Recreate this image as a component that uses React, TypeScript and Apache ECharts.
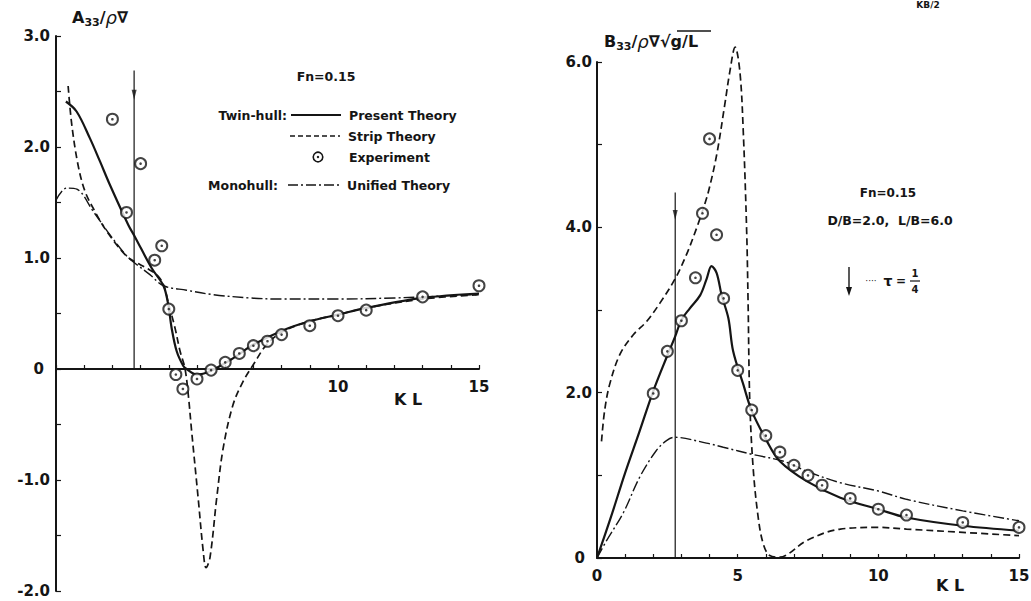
import React, { useEffect, useRef } from "react";
import * as echarts from "echarts";

// ---- Left panel: A33/ρ∇ (added mass) ----
const leftPresent: [number, number][] = [
  [0.35, 2.41], [0.73, 2.32], [1.2, 2.08], [1.56, 1.87], [1.91, 1.66], [2.56, 1.3], [2.8, 1.19],
  [3.39, 0.91], [3.81, 0.75], [3.98, 0.58], [4.1, 0.37], [4.28, 0.16], [4.51, 0.03], [4.63, 0.0],
  [4.99, -0.05], [5.46, -0.02], [6.3, 0.1], [7.0, 0.22], [8.06, 0.35], [9.0, 0.43], [10, 0.49],
  [11, 0.55], [13, 0.64], [15, 0.68],
];
const leftStrip: [number, number][] = [
  [0.43, 2.55], [0.56, 2.2], [0.78, 1.84], [1.03, 1.6], [1.38, 1.42], [1.8, 1.24], [2.45, 1.03],
  [2.77, 0.97], [3.2, 0.91], [3.57, 0.85], [3.81, 0.76], [3.98, 0.6], [4.22, 0.37], [4.4, 0.16],
  [4.57, 0.01], [4.69, -0.23], [4.81, -0.56], [5.04, -1.16], [5.22, -1.64], [5.32, -1.79],
  [5.46, -1.7], [5.7, -1.16], [5.93, -0.71], [6.28, -0.32], [6.64, -0.11], [7.0, 0.04],
  [7.47, 0.22], [8.06, 0.34], [9, 0.43], [10, 0.49], [11, 0.55], [13, 0.63], [15, 0.67],
];
const leftUnified: [number, number][] = [
  [0, 1.52], [0.38, 1.63], [0.74, 1.62], [1.32, 1.42], [1.91, 1.21], [2.5, 1.02], [2.77, 0.96],
  [3.33, 0.85], [3.81, 0.75], [4.63, 0.71], [5.57, 0.67], [6.88, 0.64], [8, 0.63], [10, 0.63],
  [12, 0.64], [13, 0.65], [15, 0.67],
];
const leftExperiment: [number, number][] = [
  [2, 2.25], [2.5, 1.41], [3, 1.85], [3.5, 0.98], [3.75, 1.11], [4, 0.54], [4.25, -0.05],
  [4.5, -0.18], [5, -0.09], [5.5, -0.01], [6, 0.06], [6.5, 0.14], [7, 0.21], [7.5, 0.25],
  [8, 0.31], [9, 0.39], [10, 0.48], [11, 0.53], [13, 0.65], [15, 0.75],
];
const leftTauLine: [number, number][] = [[2.77, 0], [2.77, 2.69]];
const leftTauArrow: [number, number][] = [[2.77, 2.47]];

// ---- Right panel: B33/ρ∇√(g/L) (damping) ----
const rightPresent: [number, number][] = [
  [0, 0], [0.5, 0.5], [1, 1.03], [1.5, 1.52], [2, 2.02], [2.5, 2.45], [2.78, 2.68], [3.0, 2.88],
  [3.3, 3.02], [3.67, 3.18], [3.9, 3.38], [4.07, 3.53], [4.25, 3.45], [4.43, 3.18], [4.67, 2.9],
  [4.84, 2.5], [5.2, 2.1], [5.5, 1.78], [6.03, 1.42], [6.5, 1.17], [7.45, 0.93], [8.65, 0.73],
  [10, 0.59], [11, 0.49], [13, 0.39], [15, 0.33],
];
const rightStrip: [number, number][] = [
  [0.16, 1.41], [0.27, 1.78], [0.45, 2.1], [0.81, 2.46], [1.29, 2.7], [1.76, 2.86], [2.23, 3.08],
  [2.78, 3.38], [3.18, 3.67], [3.54, 3.99], [3.78, 4.23], [3.96, 4.43], [4.25, 4.87], [4.54, 5.48],
  [4.72, 5.88], [4.91, 6.18], [5.08, 5.88], [5.2, 5.15], [5.32, 3.95], [5.37, 3.1], [5.43, 1.9],
  [5.55, 1.09], [5.73, 0.49], [5.91, 0.17], [6.14, 0.03], [6.5, 0.01], [6.8, 0.05], [7.45, 0.21],
  [8.65, 0.35], [10, 0.37], [11, 0.35], [13, 0.31], [15, 0.27],
];
const rightUnified: [number, number][] = [
  [0, 0], [0.34, 0.21], [0.94, 0.55], [1.52, 0.98], [2.11, 1.3], [2.47, 1.42], [2.75, 1.46],
  [3.89, 1.39], [4.49, 1.34], [5.56, 1.25], [6.63, 1.17], [7.45, 1.05], [8.65, 0.91], [10, 0.81],
  [11, 0.71], [13, 0.57], [15, 0.45],
];
const rightExperiment: [number, number][] = [
  [2, 1.99], [2.5, 2.5], [3, 2.87], [3.5, 3.39], [3.75, 4.17], [4, 5.07], [4.25, 3.91],
  [4.5, 3.14], [5, 2.27], [5.5, 1.79], [6, 1.48], [6.5, 1.28], [7, 1.12], [7.5, 1.0],
  [8, 0.88], [9, 0.72], [10, 0.59], [11, 0.52], [13, 0.43], [15, 0.37],
];
const rightTauLine: [number, number][] = [[2.78, 0], [2.78, 4.42]];
const rightTauArrow: [number, number][] = [[2.78, 4.15]];

const leftXLabels = [10, 15];
const rightXLabels = [0, 5, 10, 15];

const INK = "#151515";
const FONT = "DejaVu Sans";

const tickFont = { fontFamily: FONT, fontWeight: "bold" as const, fontSize: 15, color: INK };

function yFmt(v: number, labelEvery: number) {
  if (Math.abs(v % labelEvery) > 1e-9) return "";
  if (v === 0) return "{z|0}";
  return v.toFixed(1);
}

const LEFT_GRID = { left: 56, top: 36, width: 423, height: 555 };
const LEFT_YMIN = -2;
const LEFT_YMAX = 3;

export default function App() {
  const ref = useRef<HTMLDivElement>(null);
  useEffect(() => {
    if (!ref.current) return;
    const chart = echarts.init(ref.current, undefined, { renderer: "svg" });
    const solid = { color: INK, width: 2.2, type: "solid" as const };
    const dashed = { color: INK, width: 1.7, type: [7, 4] as any };
    const dashDot = { color: INK, width: 1.4, type: [11, 3, 2, 3] as any };
    const lineSeries = (data: any, idx: number, ls: any) => ({
      type: "line", xAxisIndex: idx, yAxisIndex: idx, data, smooth: 0.35, symbol: "none",
      lineStyle: ls, clip: false, z: 3,
    });
    const expSeries = (data: any, idx: number) => [
      {
        type: "scatter", xAxisIndex: idx, yAxisIndex: idx, data, symbol: "emptyCircle", symbolSize: 11,
        itemStyle: { color: INK, borderColor: INK, borderWidth: 1.6 }, clip: false, z: 5,
      },
      {
        type: "scatter", xAxisIndex: idx, yAxisIndex: idx, data, symbol: "circle", symbolSize: 2.6,
        itemStyle: { color: INK }, clip: false, z: 6,
      },
    ];
    const tauSeries = (line: any, arrow: any, idx: number) => [
      {
        type: "line", xAxisIndex: idx, yAxisIndex: idx, data: line, symbol: "none",
        lineStyle: { color: INK, width: 1.2 }, clip: false, z: 2,
      },
      {
        type: "scatter", xAxisIndex: idx, yAxisIndex: idx, data: arrow, symbol: "triangle",
        symbolRotate: 180, symbolSize: [5, 10], itemStyle: { color: INK }, clip: false, z: 2,
      },
    ];
    // left x-axis sits on y = 0: shift it up from the grid bottom
    const leftZeroOffset = -(LEFT_GRID.height * (0 - LEFT_YMIN)) / (LEFT_YMAX - LEFT_YMIN);
    const xAxisBase = (idx: number, labels: number[], margin: number, offset: number) => ({
      type: "value", gridIndex: idx, min: 0, max: 15, interval: 1, offset,
      axisLine: { onZero: false, lineStyle: { color: INK, width: 2 } },
      axisTick: { inside: true, length: 4, lineStyle: { color: INK, width: 1.2 } },
      axisLabel: {
        ...tickFont, margin,
        formatter: (v: number) => (labels.includes(v) ? String(v) : ""),
      },
      splitLine: { show: false },
    });
    const richTitle = {
      b: { fontFamily: FONT, fontWeight: "bold", fontSize: 16, fill: INK, lineHeight: 22 },
      r: { fontFamily: FONT, fontStyle: "italic", fontSize: 18, fill: INK, lineHeight: 22 },
      s: { fontFamily: FONT, fontWeight: "bold", fontSize: 11, fill: INK, lineHeight: 11, verticalAlign: "bottom" },
    };
    const legendText = (x: number, y: number, text: string, align = "left", size = 12.5) => ({
      type: "text", x, y,
      style: { text, fontFamily: FONT, fontWeight: "bold", fontSize: size, fill: INK, align, verticalAlign: "middle" },
    });
    const graphics: any[] = [
      { type: "text", x: 72, y: 17, style: { text: "{b|A}{s|33}{b|/}{r|ρ}{b|∇}", verticalAlign: "middle", rich: richTitle } },
      { type: "text", x: 604, y: 41, style: { text: "{b|B}{s|33}{b|/}{r|ρ}{b|∇√g/L}", verticalAlign: "middle", rich: richTitle } },
      { type: "line", shape: { x1: 677, y1: 31, x2: 711, y2: 31 }, style: { stroke: INK, lineWidth: 1.6 } },
      {
        type: "text", x: 928, y: 0,
        style: { text: "KB/2", fontFamily: FONT, fontWeight: "bold", fontSize: 9, fill: INK, align: "center", verticalAlign: "top" },
      },
      legendText(408, 399, "K L", "center", 16),
      legendText(950, 585, "K L", "center", 16),
      legendText(326, 76, "Fn=0.15", "center", 12.5),
      legendText(287, 115, "Twin-hull:", "right"),
      { type: "line", shape: { x1: 291, y1: 115, x2: 341, y2: 115 }, style: { stroke: INK, lineWidth: 2 } },
      legendText(349, 115, "Present Theory"),
      { type: "line", shape: { x1: 290, y1: 136, x2: 340, y2: 136 }, style: { stroke: INK, lineWidth: 1.6, lineDash: [5, 3] } },
      legendText(348, 136, "Strip Theory"),
      { type: "circle", shape: { cx: 318, cy: 157, r: 4.8 }, style: { stroke: INK, fill: "#fff", lineWidth: 1.6 } },
      { type: "circle", shape: { cx: 318, cy: 157, r: 1.2 }, style: { fill: INK } },
      legendText(349, 157, "Experiment"),
      legendText(278, 185, "Monohull:", "right"),
      { type: "line", shape: { x1: 288, y1: 185, x2: 340, y2: 185 }, style: { stroke: INK, lineWidth: 1.6, lineDash: [10, 3, 2, 3] } },
      legendText(347, 185, "Unified Theory"),
      legendText(888, 193, "Fn=0.15", "center", 12),
      legendText(890, 220, "D/B=2.0,  L/B=6.0", "center", 12.5),
      { type: "line", shape: { x1: 849, y1: 267, x2: 849, y2: 290 }, style: { stroke: INK, lineWidth: 1.4 } },
      { type: "polygon", shape: { points: [[846, 287], [852, 287], [849, 296]] }, style: { fill: INK } },
      { type: "text", x: 871, y: 281, style: { text: "····", fontFamily: FONT, fontSize: 9, fill: INK, align: "center", verticalAlign: "middle" } },
      legendText(888, 281, "τ", "center", 14),
      legendText(901, 281, "=", "center", 12),
      legendText(915, 273, "1", "center", 10),
      { type: "line", shape: { x1: 910, y1: 281, x2: 920, y2: 281 }, style: { stroke: INK, lineWidth: 1.2 } },
      legendText(915, 289, "4", "center", 10),
    ];
    chart.setOption({
      animation: false,
      backgroundColor: "#ffffff",
      grid: [
        { ...LEFT_GRID, containLabel: false, outerBoundsMode: "none" },
        { left: 597, top: 62, width: 422, height: 496, containLabel: false, outerBoundsMode: "none" },
      ],
      xAxis: [xAxisBase(0, leftXLabels, 10, leftZeroOffset), xAxisBase(1, rightXLabels, 10, 0)],
      yAxis: [
        {
          type: "value", gridIndex: 0, min: LEFT_YMIN, max: LEFT_YMAX, interval: 0.5,
          axisLine: { show: true, onZero: false, lineStyle: { color: INK, width: 2 } },
          axisTick: { show: true, inside: true, length: 5, lineStyle: { color: INK, width: 1.2 } },
          axisLabel: { ...tickFont, margin: 6, formatter: (v: number) => yFmt(v, 1), rich: { z: { ...tickFont, padding: [0, 6, 0, 0] } } },
          splitLine: { show: false },
        },
        {
          type: "value", gridIndex: 1, min: 0, max: 6, interval: 1,
          axisLine: { show: true, onZero: false, lineStyle: { color: INK, width: 2 } },
          axisTick: { show: true, inside: true, length: 5, lineStyle: { color: INK, width: 1.2 } },
          axisLabel: { ...tickFont, margin: 5, formatter: (v: number) => yFmt(v, 2), rich: { z: { ...tickFont, padding: [0, 7, 0, 0] } } },
          splitLine: { show: false },
        },
      ],
      series: [
        lineSeries(leftPresent, 0, solid),
        lineSeries(leftStrip, 0, dashed),
        lineSeries(leftUnified, 0, dashDot),
        ...tauSeries(leftTauLine, leftTauArrow, 0),
        ...expSeries(leftExperiment, 0),
        lineSeries(rightPresent, 1, solid),
        lineSeries(rightStrip, 1, dashed),
        lineSeries(rightUnified, 1, dashDot),
        ...tauSeries(rightTauLine, rightTauArrow, 1),
        ...expSeries(rightExperiment, 1),
      ],
      graphic: graphics,
    });
    return () => chart.dispose();
  }, []);
  return (
    <div
      ref={ref}
      style={{ position: "fixed", left: 0, top: 0, width: 1031, height: 601, background: "#fff" }}
    />
  );
}
